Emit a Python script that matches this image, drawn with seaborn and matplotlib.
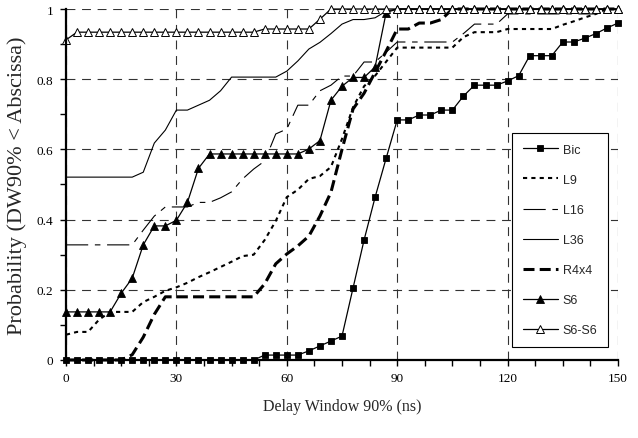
import matplotlib
matplotlib.use("Agg")
import matplotlib.pyplot as plt
import seaborn as sns
import numpy as np
from matplotlib.ticker import MultipleLocator, FixedLocator, FuncFormatter

# ---- data ----
delay = [0, 3, 6, 9, 12, 15, 18, 21, 24, 27, 30, 33, 36, 39, 42, 45, 48, 51,
         54, 57, 60, 63, 66, 69, 72, 75, 78, 81, 84, 87, 90, 93, 96, 99, 102, 105,
         108, 111, 114, 117, 120, 123, 126, 129, 132, 135, 138, 141, 144, 147, 150]

bic = [0, 0, 0, 0, 0, 0, 0, 0, 0, 0, 0, 0, 0, 0, 0, 0, 0, 0,
       0.014, 0.014, 0.014, 0.014, 0.026, 0.04, 0.054, 0.068, 0.205, 0.342, 0.464, 0.575, 0.684, 0.684, 0.698, 0.698, 0.712, 0.712,
       0.752, 0.783, 0.783, 0.783, 0.795, 0.81, 0.867, 0.867, 0.867, 0.906, 0.906, 0.917, 0.93, 0.946, 0.96]

l9 = [0.072, 0.08, 0.08, 0.115, 0.137, 0.137, 0.137, 0.165, 0.18, 0.197, 0.207, 0.22, 0.236, 0.25, 0.265, 0.28, 0.296, 0.3,
      0.342, 0.396, 0.464, 0.485, 0.516, 0.524, 0.55, 0.63, 0.72, 0.78, 0.81, 0.85, 0.89, 0.89, 0.89, 0.89, 0.89, 0.89,
      0.92, 0.934, 0.934, 0.934, 0.943, 0.943, 0.943, 0.943, 0.943, 0.955, 0.965, 0.976, 0.986, 1.0, 1.0]

l16 = [0.328, 0.328, 0.328, 0.328, 0.328, 0.328, 0.328, 0.37, 0.41, 0.436, 0.436, 0.436, 0.449, 0.449, 0.462, 0.479, 0.516, 0.544,
       0.567, 0.644, 0.658, 0.726, 0.726, 0.767, 0.783, 0.809, 0.809, 0.849, 0.849, 0.877, 0.906, 0.906, 0.906, 0.906, 0.906, 0.906,
       0.93, 0.957, 0.957, 0.957, 0.986, 0.986, 0.986, 0.986, 0.986, 0.986, 0.986, 0.986, 0.986, 1.0, 1.0]

l36 = [0.521, 0.521, 0.521, 0.521, 0.521, 0.521, 0.521, 0.535, 0.618, 0.655, 0.712, 0.712, 0.726, 0.74, 0.767, 0.806, 0.806, 0.806,
       0.806, 0.806, 0.823, 0.852, 0.886, 0.905, 0.93, 0.957, 0.97, 0.97, 0.975, 0.994, 1.0, 1.0, 1.0, 1.0, 1.0, 1.0,
       1.0, 1.0, 1.0, 1.0, 1.0, 1.0, 1.0, 1.0, 1.0, 1.0, 1.0, 1.0, 1.0, 1.0, 1.0]

r4x4 = [0, 0, 0, 0, 0, 0, 0.015, 0.065, 0.13, 0.18, 0.18, 0.18, 0.18, 0.18, 0.18, 0.18, 0.18, 0.18,
        0.217, 0.274, 0.302, 0.325, 0.353, 0.41, 0.478, 0.6, 0.715, 0.76, 0.82, 0.88, 0.943, 0.943, 0.96, 0.96, 0.97, 1.0,
        1.0, 1.0, 1.0, 1.0, 1.0, 1.0, 1.0, 1.0, 1.0, 1.0, 1.0, 1.0, 1.0, 1.0, 1.0]

s6 = [0.137, 0.137, 0.137, 0.137, 0.137, 0.19, 0.233, 0.328, 0.382, 0.382, 0.398, 0.449, 0.546, 0.587, 0.587, 0.587, 0.587, 0.587,
      0.587, 0.587, 0.587, 0.587, 0.601, 0.625, 0.74, 0.78, 0.805, 0.805, 0.835, 0.99, 1.0, 1.0, 1.0, 1.0, 1.0, 1.0,
      1.0, 1.0, 1.0, 1.0, 1.0, 1.0, 1.0, 1.0, 1.0, 1.0, 1.0, 1.0, 1.0, 1.0, 1.0]

s6s6 = [0.912, 0.934, 0.934, 0.934, 0.934, 0.934, 0.934, 0.934, 0.934, 0.934, 0.934, 0.934, 0.934, 0.934, 0.934, 0.934, 0.934, 0.934,
        0.943, 0.943, 0.943, 0.943, 0.943, 0.971, 1.0, 1.0, 1.0, 1.0, 1.0, 1.0, 1.0, 1.0, 1.0, 1.0, 1.0, 1.0,
        1.0, 1.0, 1.0, 1.0, 1.0, 1.0, 1.0, 1.0, 1.0, 1.0, 1.0, 1.0, 1.0, 1.0, 1.0]

series_names = ["Bic", "L9", "L16", "L36", "R4x4", "S6", "S6-S6"]
series_values = [bic, l9, l16, l36, r4x4, s6, s6s6]

x_ticks = [0, 30, 60, 90, 120, 150]
y_ticks = [0, 0.2, 0.4, 0.6, 0.8, 1.0]
y_tick_labels = ["0", "0.2", "0.4", "0.6", "0.8", "1"]

# ---- style ----
sns.set_style("ticks")
plt.rcParams["font.family"] = ["Liberation Serif", "DejaVu Serif"]

styles = {
    "Bic":   dict(linestyle="-", linewidth=0.9, marker="s", markersize=4.6,
                  markerfacecolor="k", markeredgecolor="k", markeredgewidth=0.6),
    "L9":    dict(linestyle=(0, (2.0, 2.0)), linewidth=1.5, marker=None),
    "L16":   dict(linestyle=(0, (20, 6, 5, 6)), linewidth=0.8, marker=None),
    "L36":   dict(linestyle="-", linewidth=0.8, marker=None),
    "R4x4":  dict(linestyle=(0, (3.6, 1.7)), linewidth=2.2, marker=None),
    "S6":    dict(linestyle="-", linewidth=0.9, marker="^", markersize=5.2,
                  markerfacecolor="k", markeredgecolor="k", markeredgewidth=0.6),
    "S6-S6": dict(linestyle="-", linewidth=0.9, marker="^", markersize=5.2,
                  markerfacecolor="white", markeredgecolor="k", markeredgewidth=0.7),
}

fig = plt.figure(figsize=(6.38, 4.39), dpi=100)
ax = fig.add_axes([0.1034, 0.1777, 0.8653, 0.7995])

for name, vals in zip(series_names, series_values):
    sns.lineplot(x=delay, y=vals, ax=ax, label=name, color="k",
                 clip_on=False, zorder=3, **styles[name])

ax.set_xlim(0, 150)
ax.set_ylim(0, 1)

ax.xaxis.set_major_locator(FixedLocator(x_ticks))
ax.xaxis.set_minor_locator(MultipleLocator(7.5))
ax.yaxis.set_major_locator(FixedLocator(y_ticks))
ax.yaxis.set_minor_locator(MultipleLocator(0.1))
ax.yaxis.set_major_formatter(FuncFormatter(lambda v, p: y_tick_labels[int(round(v / 0.2))] if abs(v / 0.2 - round(v / 0.2)) < 1e-6 else ""))

ax.tick_params(axis="both", which="both", direction="out", length=4, width=1.0, colors="k")
ax.tick_params(axis="both", which="major", labelsize=9.5, pad=5)

for sp in ["top", "right"]:
    ax.spines[sp].set_visible(False)
for sp in ["left", "bottom"]:
    ax.spines[sp].set_linewidth(1.6)
    ax.spines[sp].set_color("k")
    ax.spines[sp].set_zorder(4)

ax.grid(True, which="major", axis="both", color="#333333", linestyle=(0, (8, 6)), linewidth=0.8)
ax.set_axisbelow(True)

ax.set_xlabel("Delay Window 90% (ns)", fontsize=11.5, labelpad=10)
ax.set_ylabel("Probability (DW90% < Abscissa)", fontsize=16, labelpad=7)

leg = ax.legend(loc="lower right", bbox_to_anchor=(0.982, 0.037), frameon=True, fancybox=False,
                edgecolor="k", facecolor="white", framealpha=1.0,
                prop={"family": "Liberation Sans", "size": 9},
                handlelength=2.8, handletextpad=0.4, labelspacing=1.45,
                borderpad=0.85, borderaxespad=0, numpoints=1)
leg.get_frame().set_linewidth(0.8)
leg.set_zorder(10)

fig.savefig("out.png", dpi=100)
